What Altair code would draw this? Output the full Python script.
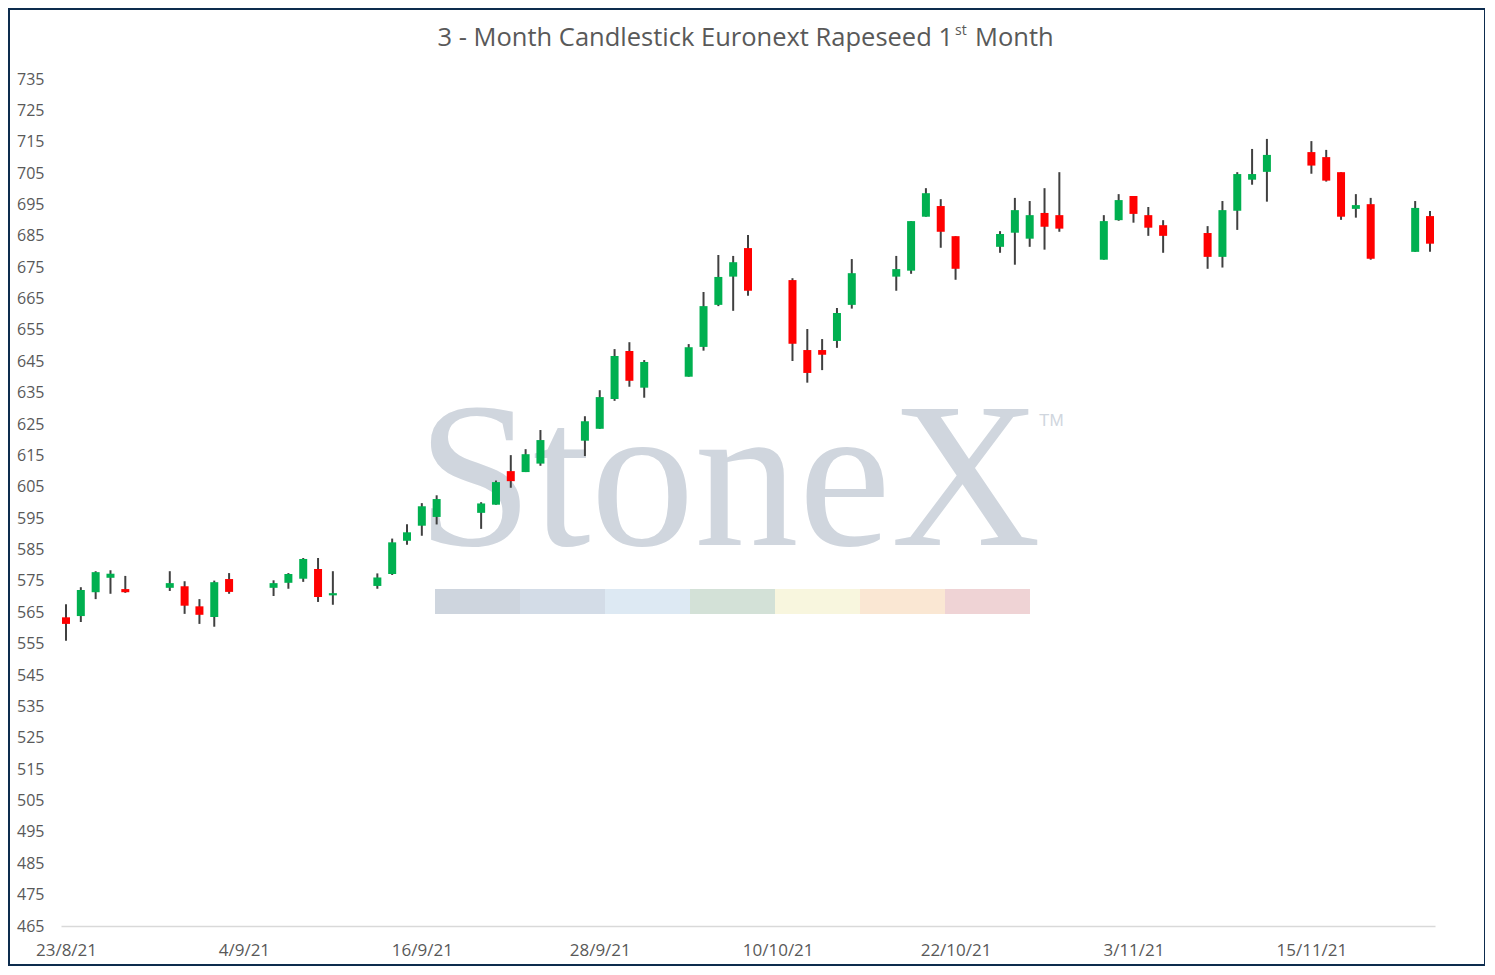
import altair as alt
import pandas as pd

dates = ["2021-08-23","2021-08-24","2021-08-25","2021-08-26","2021-08-27",
         "2021-08-30","2021-08-31","2021-09-01","2021-09-02","2021-09-03",
         "2021-09-06","2021-09-07","2021-09-08","2021-09-09","2021-09-10",
         "2021-09-13","2021-09-14","2021-09-15","2021-09-16","2021-09-17",
         "2021-09-20","2021-09-21","2021-09-22","2021-09-23","2021-09-24",
         "2021-09-27","2021-09-28","2021-09-29","2021-09-30","2021-10-01",
         "2021-10-04","2021-10-05","2021-10-06","2021-10-07","2021-10-08",
         "2021-10-11","2021-10-12","2021-10-13","2021-10-14","2021-10-15",
         "2021-10-18","2021-10-19","2021-10-20","2021-10-21","2021-10-22",
         "2021-10-25","2021-10-26","2021-10-27","2021-10-28","2021-10-29",
         "2021-11-01","2021-11-02","2021-11-03","2021-11-04","2021-11-05",
         "2021-11-08","2021-11-09","2021-11-10","2021-11-11","2021-11-12",
         "2021-11-15","2021-11-16","2021-11-17","2021-11-18","2021-11-19",
         "2021-11-22","2021-11-23"]

opens = [563.4,563.8,571.4,576.0,572.4, 572.8,573.3,566.9,563.5,575.6,
         572.8,574.4,575.7,578.8,570.4, 573.4,577.2,587.8,592.6,595.4,
         596.7,599.3,610.0,609.7,612.4, 619.7,623.5,633.0,648.3,636.6,
         640.1,649.6,663.0,672.0,681.1, 670.9,648.6,648.6,651.5,663.0,
         672.0,673.9,691.1,694.5,684.9, 681.5,686.0,684.1,692.3,691.6,
         677.4,690.0,697.7,691.6,688.4, 685.9,678.3,693.0,702.9,705.4,
         711.7,710.1,705.3,693.6,695.1, 679.9,691.3]
highs = [567.6,573.0,578.1,578.4,576.6, 578.1,574.9,569.2,575.1,577.5,
         575.2,577.5,582.3,582.3,578.1, 577.4,588.5,593.1,599.8,602.3,
         600.1,607.0,615.1,617.0,623.1, 627.5,635.8,648.9,651.1,645.4,
         650.5,667.1,678.9,678.6,685.3, 671.5,655.3,652.1,662.0,677.6,
         678.6,689.7,700.2,696.7,684.9, 686.5,697.1,696.1,700.2,705.3,
         691.6,698.3,697.7,694.2,690.0, 688.1,696.1,705.3,712.7,715.9,
         715.2,712.4,705.3,698.3,697.1, 696.1,692.9]
lows = [555.9,561.9,569.2,570.9,571.2, 571.8,564.5,561.3,560.4,570.9,
        570.2,572.5,574.7,568.3,567.4, 572.5,576.9,586.5,589.4,593.0,
        591.6,599.3,604.7,609.7,611.7, 614.8,623.5,632.4,636.9,633.4,
        640.1,648.4,662.6,661.1,665.9, 645.1,638.2,642.2,649.3,661.8,
        667.5,672.9,691.1,681.2,671.0, 679.6,675.8,681.5,680.6,686.3,
        677.4,689.8,689.2,685.0,679.6, 674.5,674.9,686.9,701.3,695.9,
        704.8,702.3,690.1,690.8,677.4, 679.9,679.9]
closes = [561.3,572.1,577.8,577.3,571.4, 574.3,567.1,564.2,574.6,571.5,
          574.3,577.2,582.0,569.9,571.1, 576.1,587.3,590.5,598.8,601.1,
          599.7,606.5,606.8,615.4,619.9, 625.9,633.6,646.7,638.8,644.8,
          649.5,662.6,671.9,676.6,667.5, 650.6,641.3,647.1,660.4,673.1,
          674.4,689.7,698.6,686.3,674.5, 685.6,693.2,691.6,687.9,687.3,
          689.7,696.4,692.0,687.6,685.0, 678.3,693.2,704.7,704.7,710.8,
          707.4,702.6,691.1,694.8,677.7, 693.9,682.5]

tick_labels = ["23/8/21","4/9/21","16/9/21","28/9/21","10/10/21","22/10/21","3/11/21","15/11/21"]
y_ticks = list(range(465, 736, 10))
title_main = "3 - Month Candlestick Euronext Rapeseed 1"
title_sup = "st"
title_end = "Month"
logo_text = "StoneX"
logo_colors = ["#ced5de","#d3dce7","#dde9f3","#d3e1d7","#f8f6de","#fae7d3","#efd3d5"]

start = pd.Timestamp(dates[0])
df = pd.DataFrame({"date": dates, "open": opens, "high": highs, "low": lows, "close": closes})
df["day"] = (pd.to_datetime(df["date"]) - start).dt.days

label_arr = "[" + ",".join("'%s'" % t for t in tick_labels) + "]"
tick_days = [12 * i for i in range(len(tick_labels))]

W, H = 1374, 847
FONT = "Open Sans"
GREY = "#595959"

x_scale = alt.Scale(domain=[0, 92], nice=False, zero=False)
y_scale = alt.Scale(domain=[465, 735], nice=False, zero=False)

x_axis = alt.Axis(values=tick_days, labelExpr=label_arr + "[round(datum.value/12)]",
                  title=None, grid=False, ticks=False, domain=True,
                  domainColor="#d9d9d9", domainWidth=1.5,
                  labelFont=FONT, labelFontSize=17, labelColor=GREY,
                  labelPadding=16, labelFlush=False, labelOverlap=False)
y_axis = alt.Axis(values=y_ticks, title=None, grid=False, ticks=False, domain=False,
                  labelFont=FONT, labelFontSize=16, labelColor=GREY,
                  labelPadding=17, labelOverlap=False)

base = alt.Chart(df)

wicks = base.mark_rule(color="#404040", strokeWidth=2).encode(
    x=alt.X("day:Q", scale=x_scale, axis=x_axis),
    y=alt.Y("low:Q", scale=y_scale, axis=y_axis),
    y2="high:Q",
)

bodies = base.mark_bar(size=8, strokeWidth=0).encode(
    x=alt.X("day:Q", scale=x_scale, axis=x_axis),
    y=alt.Y("open:Q", scale=y_scale, axis=y_axis),
    y2="close:Q",
    color=alt.condition("datum.close >= datum.open", alt.value("#00b050"), alt.value("#ff0000")),
)

logo = alt.Chart(pd.DataFrame({"t": [logo_text]})).mark_text(
    font="Liberation Serif", fontSize=208, color="#d0d6de", align="center", baseline="alphabetic"
).encode(text="t:N", x=alt.value(668), y=alt.value(466))

tm = alt.Chart(pd.DataFrame({"t": ["TM"]})).mark_text(
    font="Liberation Sans", fontSize=17, color="#d0d6de", align="left", baseline="alphabetic"
).encode(text="t:N", x=alt.value(978), y=alt.value(347))

bar_df = pd.DataFrame({"c": logo_colors})
bar_df["i"] = range(len(logo_colors))
bar_df["x0"] = 374 + bar_df["i"] * 85
bar_df["x1"] = bar_df["x0"] + 85
colorbar = alt.Chart(bar_df).mark_rect().encode(
    x=alt.X("x0:Q", scale=None), x2="x1:Q",
    y=alt.value(510), y2=alt.value(535),
    color=alt.Color("c:N", scale=None),
)

t1 = alt.Chart(pd.DataFrame({"t": [title_main]})).mark_text(
    font=FONT, fontSize=25.5, color=GREY, align="right", baseline="alphabetic"
).encode(text="t:N", x=alt.value(892), y=alt.value(-33))
t2 = alt.Chart(pd.DataFrame({"t": [title_sup]})).mark_text(
    font=FONT, fontSize=14, color=GREY, align="left", baseline="alphabetic"
).encode(text="t:N", x=alt.value(894), y=alt.value(-44))
t3 = alt.Chart(pd.DataFrame({"t": [title_end]})).mark_text(
    font=FONT, fontSize=25.5, color=GREY, align="left", baseline="alphabetic"
).encode(text="t:N", x=alt.value(914), y=alt.value(-33))

frame = alt.Chart(pd.DataFrame({"t": [1]})).mark_rect(
    fillOpacity=0, stroke="#0d2c4e", strokeWidth=2
).encode(x=alt.value(-52), x2=alt.value(1424), y=alt.value(-70), y2=alt.value(886))

chart = alt.layer(logo, tm, colorbar, wicks, bodies, t1, t2, t3, frame).resolve_scale(
    color="independent"
).properties(
    width=W, height=H,
    padding={"left": 53, "top": 71, "right": 50, "bottom": 40},
    autosize=alt.AutoSizeParams(type="none"),
    background="white",
).configure_view(stroke=None)

chart.save("out.html", embed_options={"renderer": "svg", "actions": False})
